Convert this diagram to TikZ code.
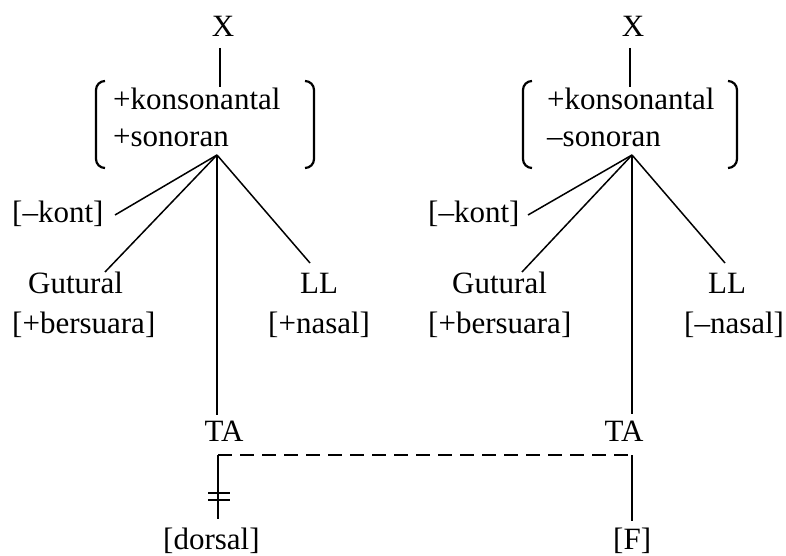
\documentclass[tikz,border=0pt]{standalone}
\usepackage{fontspec}
\setmainfont{Liberation Serif}
\begin{document}
\begin{tikzpicture}[x=1pt,y=-1pt,
  lbl/.style={inner sep=0pt,anchor=base west,font=\fontsize{31}{37}\selectfont},
  lblc/.style={inner sep=0pt,anchor=base,font=\fontsize{31}{37}\selectfont},
  branch/.style={line width=1.5pt},
  brack/.style={line width=2.2pt,rounded corners=9pt},
  assoc/.style={line width=1.5pt,dash pattern=on 14pt off 8pt}]
\useasboundingbox (0,0) rectangle (786,556);

% ---------- left tree ----------
\node[lblc] (xL) at (223,37) {X};
\coordinate (xLb) at (220,48);
\coordinate (fL) at (220,87);
\draw[branch] (xLb) -- (fL);
\draw[brack] (105,81) -- (96,81) -- (96,168) -- (105,168);
\draw[brack] (305,81) -- (314,81) -- (314,168) -- (305,168);
\node[lbl] (konsL) at (113,110) {+konsonantal};
\node[lbl] (sonL) at (113,147) {+sonoran};
\coordinate (apL) at (217,155);

\node[lbl] (kontL) at (12,222) {[–kont]};
\coordinate (kontLe) at (115,215);
\node[lbl] (gutL) at (28,293) {Gutural};
\coordinate (gutLe) at (105,272);
\node[lbl] (bersL) at (12,333) {[+bersuara]};
\node[lbl] (llL) at (300,293) {LL};
\coordinate (llLe) at (310,263);
\node[lbl] (nasL) at (268,333) {[+nasal]};
\node[lblc] (taL) at (224,441) {TA};
\coordinate (taLt) at (217,415);

\draw[branch] (apL) -- (kontLe);
\draw[branch] (apL) -- (gutLe);
\draw[branch] (apL) -- (llLe);
\draw[branch] (apL) -- (taLt);

% ---------- right tree ----------
\node[lblc] (xR) at (633,37) {X};
\coordinate (xRb) at (630,48);
\coordinate (fR) at (630,87);
\draw[branch] (xRb) -- (fR);
\draw[brack] (532,81) -- (523,81) -- (523,168) -- (532,168);
\draw[brack] (728,81) -- (737,81) -- (737,168) -- (728,168);
\node[lbl] (konsR) at (547,110) {+konsonantal};
\node[lbl] (sonR) at (547,147) {–sonoran};
\coordinate (apR) at (632,155);

\node[lbl] (kontR) at (428,222) {[–kont]};
\coordinate (kontRe) at (528,215);
\node[lbl] (gutR) at (452,293) {Gutural};
\coordinate (gutRe) at (522,272);
\node[lbl] (bersR) at (428,333) {[+bersuara]};
\node[lbl] (llR) at (708,293) {LL};
\coordinate (llRe) at (725,263);
\node[lbl] (nasR) at (684,333) {[–nasal]};
\node[lblc] (taR) at (624,441) {TA};
\coordinate (taRt) at (632,414);

\draw[branch] (apR) -- (kontRe);
\draw[branch] (apR) -- (gutRe);
\draw[branch] (apR) -- (llRe);
\draw[branch] (apR) -- (taRt);

% ---------- place features ----------
\coordinate (hL) at (218,455);
\coordinate (hR) at (632,455);
\node[lbl] (dors) at (163,549) {[dorsal]};
\node[lbl] (ff) at (613,549) {[F]};
\coordinate (dorsT) at (218,519);
\coordinate (ffT) at (632,521);

\draw[assoc] (hL) -- (hR);
\draw[branch] (hL) -- (dorsT);
\draw[branch] (hR) -- (ffT);
% delinking marks
\draw[branch] (208,493) -- (230,493);
\draw[branch] (208,500) -- (230,500);
\end{tikzpicture}
\end{document}
